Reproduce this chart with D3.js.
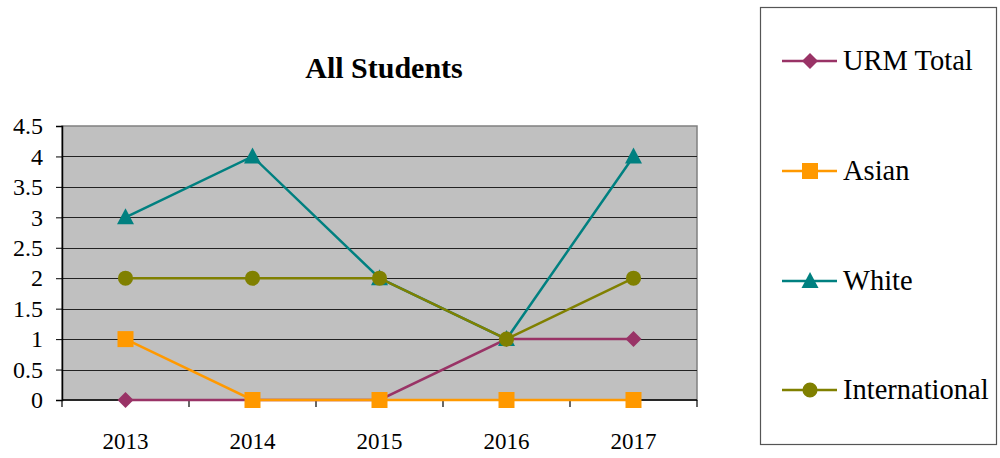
<!DOCTYPE html>
<html><head><meta charset="utf-8">
<script src="https://cdn.jsdelivr.net/npm/d3@7"></script>
<style>body{margin:0;background:#fff}svg{display:block}</style>
</head><body>
<svg id="c" width="1000" height="458"></svg>
<script>
const categories = ["2013","2014","2015","2016","2017"];
const urmTotal = [0,0,0,1,1];
const asian = [1,0,0,0,0];
const white = [3,4,2,1,4];
const international = [2,2,2,1,2];
const yTicks = [0,0.5,1,1.5,2,2.5,3,3.5,4,4.5];
const seriesNames = ["URM Total","Asian","White","International"];
const seriesColors = ["#993366","#FF9900","#008080","#808000"];
const seriesSymbols = ["diamond","square","triangle","circle"];
const seriesValues = [urmTotal, asian, white, international];

const font = "'Liberation Serif','Times New Roman',serif";
const svg = d3.select("#c");
const L=62,R=697,T=126,B=400;
const x = d3.scaleBand().domain(categories).range([L,R]);
const y = d3.scaleLinear().domain([0,4.5]).range([B,T]);

svg.append("rect").attr("x",L).attr("y",T).attr("width",R-L).attr("height",B-T)
  .attr("fill","#C0C0C0").attr("stroke","#808080").attr("stroke-width",1.5);

// gridlines
svg.append("g").selectAll("line").data(yTicks.filter(d=>d>0&&d<4.5)).join("line")
  .attr("x1",L).attr("x2",R).attr("y1",d=>Math.round(y(d))+0.5).attr("y2",d=>Math.round(y(d))+0.5)
  .attr("stroke","#222").attr("stroke-width",1);

// y axis
const ya = svg.append("g").attr("transform",`translate(${L},0)`)
  .call(d3.axisLeft(y).tickValues(yTicks).tickSize(6).tickPadding(13).tickFormat(d=>String(d)));
ya.attr("font-family",font).attr("font-size",24);
ya.select(".domain").attr("stroke","#000").attr("stroke-width",1.5);
ya.selectAll(".tick line").attr("stroke","#000");
ya.selectAll("text").attr("font-family",font).attr("font-size",24).attr("fill","#000");

// x axis
const xa = svg.append("g").attr("transform",`translate(0,${B})`);
xa.append("line").attr("x1",L).attr("x2",R).attr("stroke","#000").attr("stroke-width",1.5);
const bounds = categories.map(c=>x(c)).concat([R]);
xa.selectAll("line.t").data(bounds).join("line").attr("class","t")
  .attr("x1",d=>d).attr("x2",d=>d).attr("y1",0).attr("y2",7).attr("stroke","#000").attr("stroke-width",1.2);
xa.selectAll("text").data(categories).join("text")
  .attr("x",d=>x(d)+x.bandwidth()/2).attr("y",49).attr("text-anchor","middle")
  .attr("font-family",font).attr("font-size",23).attr("fill","#000").text(d=>d);

// title
svg.append("text").attr("x",384).attr("y",78).attr("text-anchor","middle")
  .attr("font-family",font).attr("font-size",30).attr("font-weight","bold").text("All Students");

function sym(k){
  if(k==="diamond") return "M0,-8L8,0L0,8L-8,0Z";
  if(k==="square") return "M-8,-8H8V8H-8Z";
  if(k==="triangle") return "M0,-9L8.5,7H-8.5Z";
  return d3.symbol().type(d3.symbolCircle).size(180)();
}

const cx = c=>x(c)+x.bandwidth()/2;
const line = d3.line().x((d,i)=>cx(categories[i])).y(d=>y(d));
seriesValues.forEach((vals,s)=>{
  const g = svg.append("g");
  g.append("path").attr("d",line(vals)).attr("fill","none").attr("stroke",seriesColors[s]).attr("stroke-width",2.5);
  g.selectAll("path.m").data(vals).join("path").attr("class","m")
    .attr("d",sym(seriesSymbols[s]))
    .attr("transform",(d,i)=>`translate(${cx(categories[i])},${y(d)})`)
    .attr("fill",seriesColors[s]);
});

// legend
svg.append("rect").attr("x",760.5).attr("y",7.5).attr("width",236).attr("height",437)
  .attr("fill","#fff").attr("stroke","#555").attr("stroke-width",1.2);
const ly = [61,171,281,390];
seriesNames.forEach((n,s)=>{
  const g = svg.append("g").attr("transform",`translate(0,${ly[s]})`);
  g.append("line").attr("x1",782).attr("x2",837).attr("stroke",seriesColors[s]).attr("stroke-width",2.5);
  g.append("path").attr("d",sym(seriesSymbols[s])).attr("transform","translate(810,0)").attr("fill",seriesColors[s]);
  g.append("text").attr("x",843).attr("y",9).attr("font-family",font).attr("font-size",28.5).attr("fill","#000").text(n);
});
</script>
</body></html>
